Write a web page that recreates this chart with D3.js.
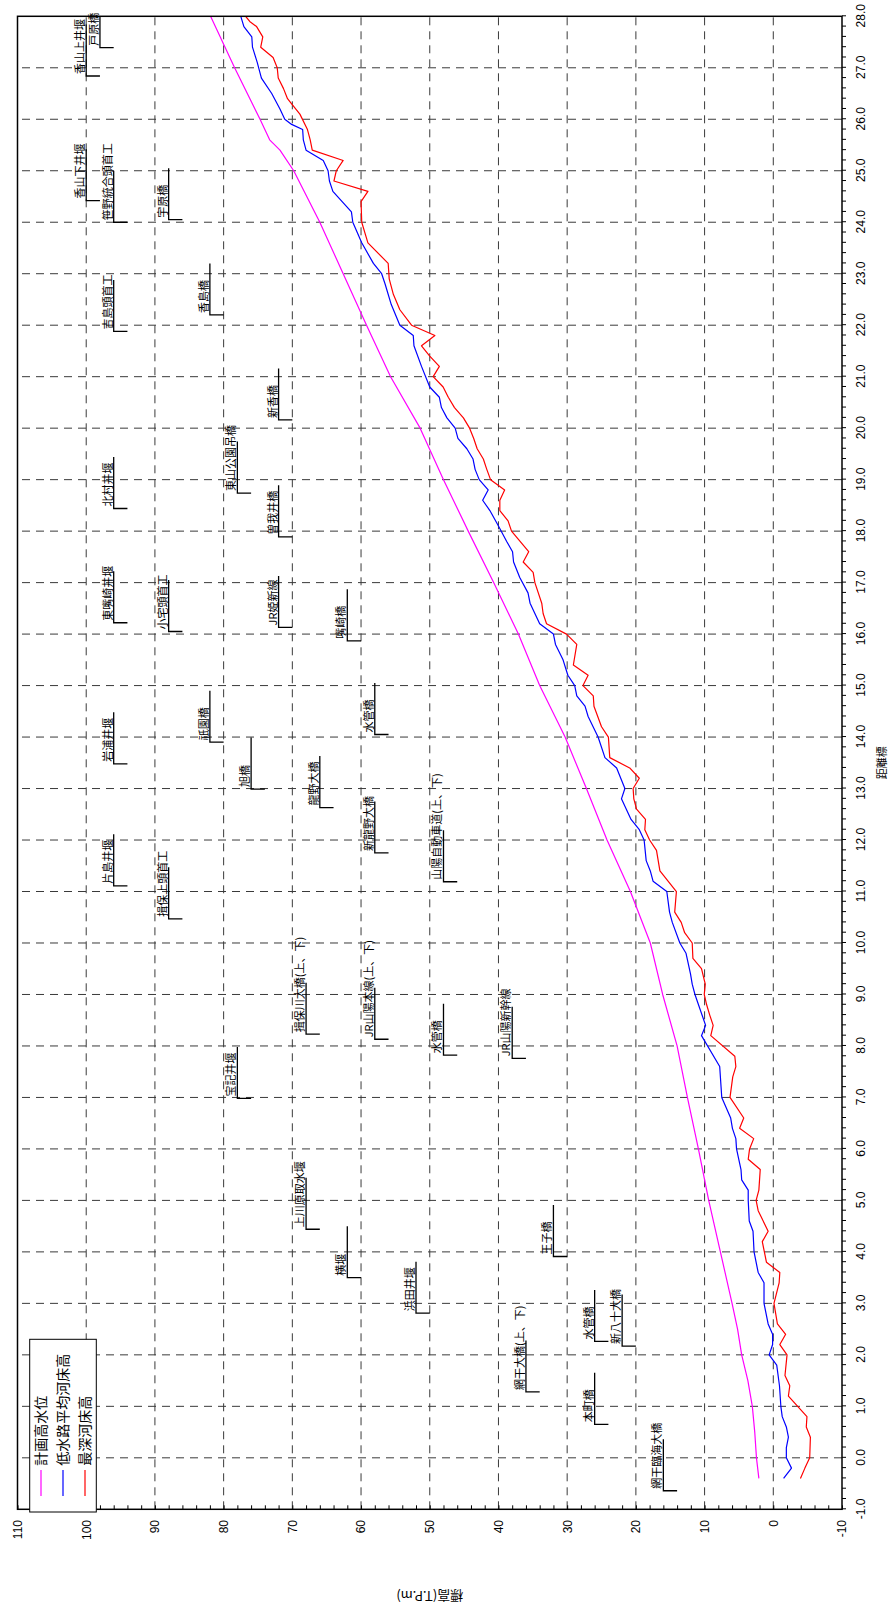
<!DOCTYPE html>
<html>
<head>
<meta charset="utf-8">
<script src="https://cdn.jsdelivr.net/npm/d3@7"></script>
<style>
  body { margin: 0; background: #fff; }
  svg { display: block; }
</style>
</head>
<body>
<svg id="chart" width="889" height="1608"></svg>
<script>
// 計画高水位 (planned high water level)
const planKm    = [-0.4, 0.0, 0.5, 1.0, 1.5, 2.0, 2.5, 3.0, 4.0, 5.0, 6.0, 7.0, 8.0, 9.0, 10.0, 11.0, 12.0, 13.0, 14.0, 15.0, 16.0, 17.0, 18.0, 19.0, 20.0, 21.0, 22.0, 23.0, 24.0, 25.0, 25.4, 25.6, 26.0, 27.0, 28.0];
const planLevel = [2.1, 2.45, 2.7, 3.05, 3.7, 4.6, 5.2, 6.0, 7.7, 9.4, 10.9, 12.5, 14.0, 16.1, 17.9, 20.8, 24.2, 27.2, 30.3, 34.0, 37.1, 40.7, 44.4, 48.0, 51.4, 55.7, 59.2, 62.6, 66.0, 69.8, 71.8, 73.3, 74.7, 78.4, 81.9];

// 低水路平均河床高 (average bed of the low-water channel)
const avgKm  = [-0.4, -0.2, 0.0, 0.2, 0.4, 0.6, 0.8, 1.0, 1.4, 1.8, 2.0, 2.2, 2.4, 2.6, 3.0, 3.4, 3.6, 4.0, 4.4, 4.6, 5.0, 5.2, 5.4, 5.6, 6.0, 6.2, 6.4, 6.6, 7.0, 7.2, 7.6, 8.2, 8.4, 9.0, 9.2, 9.4, 9.8, 10.0, 10.4, 10.6, 11.0, 11.2, 11.4, 11.6, 12.0, 12.2, 12.4, 12.8, 13.0, 13.4, 13.6, 14.0, 14.4, 14.6, 14.8, 15.0, 15.2, 15.5, 15.8, 16.0, 16.2, 16.6, 16.8, 17.1, 17.4, 17.6, 17.8, 18.1, 18.4, 18.6, 18.8, 19.0, 19.2, 19.4, 19.6, 19.8, 20.0, 20.2, 20.4, 20.6, 20.8, 21.2, 21.6, 21.8, 22.0, 22.4, 22.8, 23.0, 23.2, 23.6, 24.0, 24.2, 24.6, 24.8, 25.0, 25.2, 25.4, 25.6, 25.8, 25.9, 26.0, 26.2, 26.5, 26.8, 27.1, 27.4, 27.6, 27.8, 28.0];
const avgBed = [-1.5, -2.65, -1.9, -1.9, -2.2, -1.9, -1.3, -1.1, -0.9, -0.5, 0.6, 0.1, 0.1, 0.75, 1.35, 1.35, 2.2, 2.8, 2.95, 3.5, 3.65, 3.65, 4.6, 4.7, 5.35, 5.45, 5.95, 6.2, 7.5, 7.6, 7.8, 10.45, 9.85, 11.4, 11.8, 12.05, 12.7, 13.6, 14.7, 15.1, 15.5, 17.5, 17.9, 18.5, 18.8, 19.5, 20.7, 22.1, 21.6, 22.8, 24.5, 25.5, 26.95, 27.4, 28.6, 28.9, 29.9, 30.6, 31.7, 32.0, 34.0, 35.4, 35.7, 36.9, 37.8, 37.95, 38.8, 40.0, 41.25, 42.3, 41.5, 42.8, 43.4, 43.7, 44.6, 45.9, 46.3, 47.5, 48.3, 48.6, 50.0, 51.2, 52.3, 52.4, 54.35, 55.6, 56.5, 57.0, 58.2, 59.9, 61.2, 61.4, 64.1, 64.6, 64.8, 65.5, 68.0, 68.4, 68.5, 70.1, 71.1, 71.8, 73.0, 74.5, 75.1, 75.8, 75.9, 77.05, 77.5];

// 最深河床高 (deepest bed)
const deepKm  = [-0.4, -0.2, 0.0, 0.4, 0.6, 0.8, 1.2, 1.4, 1.6, 2.0, 2.2, 2.4, 2.6, 3.0, 3.4, 3.6, 3.8, 4.2, 4.4, 4.8, 5.0, 5.2, 5.6, 5.8, 6.0, 6.2, 6.4, 6.6, 7.0, 7.4, 7.6, 7.8, 8.2, 8.4, 8.6, 8.8, 9.0, 9.2, 9.5, 9.7, 10.0, 10.2, 10.4, 10.6, 11.0, 11.4, 11.8, 12.0, 12.2, 12.4, 12.6, 12.8, 13.0, 13.2, 13.4, 13.6, 14.0, 14.2, 14.6, 14.8, 15.0, 15.2, 15.4, 15.8, 16.0, 16.2, 16.4, 16.6, 17.0, 17.2, 17.4, 17.6, 18.0, 18.2, 18.4, 18.6, 18.8, 19.0, 19.2, 19.4, 19.6, 19.8, 20.0, 20.2, 20.4, 20.6, 20.8, 21.0, 21.2, 21.4, 21.6, 21.8, 22.0, 22.3, 22.6, 22.9, 23.2, 23.6, 24.0, 24.4, 24.6, 24.8, 25.0, 25.2, 25.4, 25.6, 25.8, 26.1, 26.3, 26.4, 26.6, 26.8, 27.0, 27.2, 27.4, 27.6, 27.8, 27.9, 28.0];
const deepBed = [-3.95, -4.6, -5.3, -5.4, -4.8, -4.9, -2.2, -2.4, -1.7, -2.0, -0.95, -1.8, -0.6, -0.1, -0.85, -0.95, 1.0, 1.6, 0.75, 2.2, 2.5, 2.1, 1.9, 3.65, 3.45, 2.85, 4.9, 4.3, 6.3, 5.9, 5.45, 5.6, 9.1, 8.75, 9.25, 9.7, 10.05, 9.9, 10.45, 11.7, 11.8, 12.9, 13.4, 14.35, 14.1, 16.5, 17.0, 18.0, 18.7, 18.6, 19.9, 20.3, 20.4, 19.5, 20.9, 23.8, 24.0, 25.0, 26.1, 26.2, 27.7, 26.95, 29.1, 28.6, 30.1, 33.0, 33.5, 33.7, 34.7, 34.95, 36.4, 35.6, 38.1, 38.6, 39.8, 39.8, 39.1, 41.15, 41.7, 42.2, 43.1, 43.6, 44.2, 45.1, 46.4, 47.3, 48.05, 49.5, 48.6, 50.0, 51.2, 49.25, 52.65, 54.35, 55.3, 55.9, 56.05, 59.0, 59.9, 60.0, 59.0, 63.95, 63.6, 62.6, 67.1, 67.4, 67.8, 68.9, 70.1, 70.7, 71.3, 72.05, 72.2, 72.8, 74.6, 74.3, 75.2, 76.2, 76.8];

// Structures along the river: name, distance marker (km), label height (m)
const structureNames = ["香山上井堰", "戸原橋", "香山下井堰", "笹野統合頭首工", "宇原橋", "吉島頭首工", "香島橋", "新香橋", "東山公園吊橋", "北村井堰", "曽我井橋", "東嘴崎井堰", "小宅頭首工", "JR姫新線", "嘴崎橋", "水管橋", "岩浦井堰", "祇園橋", "旭橋", "龍野大橋", "新龍野大橋", "片島井堰", "揖保上頭首工", "山陽自動車道(上、下)", "揖保川大橋(上、下)", "JR山陽本線(上、下)", "水管橋", "JR山陽新幹線", "宝記井堰", "上川原取水堰", "横堰", "浜田井堰", "王子橋", "網干大橋(上、下)", "水管橋", "新八十大橋", "本町橋", "網干臨海大橋"];
const structureKm = [26.84, 27.39, 24.42, 24.0, 24.05, 21.88, 22.2, 20.16, 18.74, 18.44, 17.89, 16.22, 16.05, 16.13, 15.87, 14.05, 13.48, 13.9, 12.99, 12.63, 11.75, 11.11, 10.47, 11.19, 8.23, 8.13, 7.82, 7.76, 6.98, 4.44, 3.5, 2.81, 3.91, 1.28, 2.26, 2.17, 0.65, -0.64];
const structureLevel = [100, 98, 100, 96, 88, 96, 82, 72, 78, 96, 72, 96, 88, 72, 62, 58, 96, 82, 76, 66, 58, 96, 88, 48, 68, 58, 48, 38, 78, 68, 62, 52, 32, 36, 26, 22, 26, 16];

// Axis ticks and labels
const kmTicks = d3.range(-5, 141).map(i => i / 5);      // every 0.2 km from -1.0 to 28.0
const levelTicks = d3.range(-10, 111, 2);
const kmGrid = d3.range(0, 28);
const levelGrid = d3.range(0, 101, 10);

const legendLabels = ["計画高水位", "低水路平均河床高", "最深河床高"];
const seriesColors = ["#ff00ff", "#0000ff", "#ff0000"];

const xAxisTitle = "距離標";
const yAxisTitle = "標高(T.P.m)";

// ---------------------------------------------------------------
// The profile is laid out landscape (distance across, height up)
// and the whole drawing is turned a quarter turn onto the page.
const W = 1608, H = 889;
const plot = { left: 98.7, right: 1591.7, top: 17.5, bottom: 842 };

const svg = d3.select("#chart");
svg.append("rect").attr("width", 889).attr("height", 1608).attr("fill", "#fff");

const root = svg.append("g").attr("transform", `translate(0,${W}) rotate(-90)`);

const x = d3.scaleLinear().domain([-1, 28]).range([plot.left, plot.right]);
const y = d3.scaleLinear().domain([-10, 110]).range([plot.bottom, plot.top]);

const numFont = "'Liberation Sans', Arial, sans-serif";
const cjkFont = "'Noto Sans CJK JP', 'Noto Sans CJK SC', sans-serif";

root.append("clipPath").attr("id", "plotClip")
  .append("rect")
  .attr("x", plot.left).attr("y", plot.top)
  .attr("width", plot.right - plot.left).attr("height", plot.bottom - plot.top);

// Grid
const grid = root.append("g").attr("stroke", "#3a3a3a").attr("stroke-width", 1)
  .attr("stroke-dasharray", "8,6");
grid.selectAll("line.gx").data(kmGrid).join("line").attr("class", "gx")
  .attr("x1", d => x(d)).attr("x2", d => x(d))
  .attr("y1", plot.bottom).attr("y2", plot.top);
grid.selectAll("line.gy").data(levelGrid).join("line").attr("class", "gy")
  .attr("x1", plot.left).attr("x2", plot.right)
  .attr("y1", d => y(d)).attr("y2", d => y(d));

// Distance axis (ticks outward)
const xAxis = d3.axisBottom(x).tickValues(kmTicks).tickSize(4).tickSizeOuter(0)
  .tickFormat(d => Number.isInteger(d) ? d.toFixed(1) : "");
const gx = root.append("g").attr("transform", `translate(0,${plot.bottom})`).call(xAxis);
gx.select(".domain").remove();
gx.selectAll(".tick line").attr("stroke", "#000").attr("stroke-width", 1);
gx.selectAll(".tick text").attr("y", 18.5).attr("dy", "0.35em")
  .attr("font-family", numFont).attr("font-size", 12).attr("fill", "#000");

// Height axis (ticks inward)
const yAxis = d3.axisLeft(y).tickValues(levelTicks).tickSize(-4).tickSizeOuter(0)
  .tickPadding(10.7)
  .tickFormat(d => d % 10 === 0 ? String(d) : "");
const gy = root.append("g").attr("transform", `translate(${plot.left},0)`).call(yAxis);
gy.select(".domain").remove();
gy.selectAll(".tick line").attr("stroke", "#000").attr("stroke-width", 1);
gy.selectAll(".tick text").attr("font-family", numFont).attr("font-size", 12).attr("fill", "#000");

// Axis titles
root.append("text")
  .attr("x", (plot.left + plot.right) / 2).attr("y", 882).attr("dy", "0.35em")
  .attr("text-anchor", "middle").attr("font-family", cjkFont).attr("font-size", 11)
  .text(xAxisTitle);
root.append("text")
  .attr("transform", `translate(12,${(plot.top + plot.bottom) / 2}) rotate(-90)`)
  .attr("dy", "0.35em").attr("text-anchor", "middle")
  .attr("font-family", cjkFont).attr("font-size", 13)
  .text(yAxisTitle);

// Profiles
const series = [
  { km: planKm, v: planLevel, color: seriesColors[0] },
  { km: avgKm, v: avgBed, color: seriesColors[1] },
  { km: deepKm, v: deepBed, color: seriesColors[2] }
];
const line = d3.line().x(d => x(d[0])).y(d => y(d[1]));
const lines = root.append("g").attr("clip-path", "url(#plotClip)");
series.forEach(s => {
  lines.append("path")
    .datum(s.km.map((k, i) => [k, s.v[i]]))
    .attr("fill", "none").attr("stroke", s.color).attr("stroke-width", 1.2)
    .attr("stroke-linejoin", "round")
    .attr("d", line);
});

// Structure markers: a 1 km bar with a short foot at the structure's position
const structures = structureNames.map((n, i) => ({ name: n, km: structureKm[i], level: structureLevel[i] }));
const marks = root.append("g");
marks.append("g").attr("clip-path", "url(#plotClip)")
  .selectAll("path").data(structures).join("path")
  .attr("fill", "none").attr("stroke", "#000").attr("stroke-width", 1.3)
  .attr("d", d => `M${x(d.km + 1)},${y(d.level)}H${x(d.km)}V${y(d.level - 2)}`);
marks.append("g").selectAll("text").data(structures).join("text")
  .attr("x", d => x(d.km) + 2).attr("y", d => y(d.level) - 2)
  .attr("font-family", cjkFont).attr("font-size", 11).attr("fill", "#000")
  .text(d => d.name);

// Frame
root.append("rect")
  .attr("x", plot.left).attr("y", plot.top)
  .attr("width", plot.right - plot.left).attr("height", plot.bottom - plot.top)
  .attr("fill", "none").attr("stroke", "#000").attr("stroke-width", 1.5);

// Legend
const lg = root.append("g");
lg.append("rect").attr("x", 96).attr("y", 29.7).attr("width", 172.7).attr("height", 66.6)
  .attr("fill", "#fff").attr("stroke", "#000").attr("stroke-width", 1);
legendLabels.forEach((lab, i) => {
  const ly = 41 + i * 22;
  lg.append("line").attr("x1", 112).attr("x2", 138).attr("y1", ly).attr("y2", ly)
    .attr("stroke", seriesColors[i]).attr("stroke-width", 1.2);
  lg.append("text").attr("x", 142.3).attr("y", ly).attr("dy", "0.36em")
    .attr("font-family", cjkFont).attr("font-size", 14).attr("fill", "#000")
    .text(lab);
});
</script>
</body>
</html>
